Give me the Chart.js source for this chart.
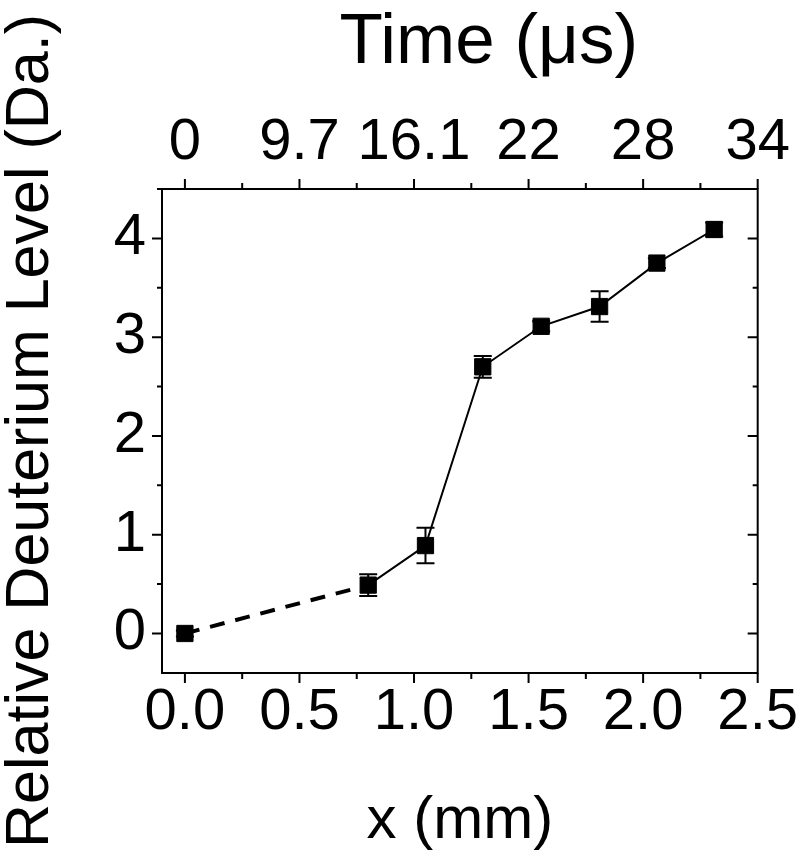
<!DOCTYPE html>
<html lang="en">
<head>
<meta charset="UTF-8">
<title>Relative Deuterium Level vs Position</title>
<script src="https://cdn.jsdelivr.net/npm/chart.js"></script>
<style>
  body { margin: 0; background: #fff; }
</style>
</head>
<body>
<canvas id="deutChart" width="803" height="863"></canvas>
<script>
// position along the channel (mm) and measured deuterium uptake
const xPos = [0, 0.8, 1.05, 1.3, 1.555, 1.81, 2.06, 2.31];
const deutLevel = [0, 0.49, 0.89, 2.70, 3.11, 3.31, 3.75, 4.09];
const deutErr = [0.03, 0.11, 0.18, 0.11, 0.05, 0.155, 0.05, 0.07];

// axis ticks
const xTicks = [0, 0.5, 1.0, 1.5, 2.0, 2.5];
const timeLabels = ['0', '9.7', '16.1', '22', '28', '34'];
const yTicks = [0, 1, 2, 3, 4];

const FONT = '"Liberation Sans", Arial, sans-serif';

// frame, tick marks and the top title
const framePlugin = {
    id: 'frame',
    afterDraw(chart) {
        const { ctx, chartArea: a, scales } = chart;
        ctx.save();
        ctx.strokeStyle = '#000';
        ctx.lineWidth = 2;
        ctx.strokeRect(a.left, a.top, a.right - a.left, a.bottom - a.top);
        ctx.beginPath();
        for (let i = 0; i <= 10; i++) {
            const v = i * 0.25;
            const px = scales.x.getPixelForValue(v);
            const len = i % 2 === 0 ? 10 : 6;
            ctx.moveTo(px, a.bottom); ctx.lineTo(px, a.bottom + len);
            ctx.moveTo(px, a.top); ctx.lineTo(px, a.top - len);
        }
        for (let i = 0; i <= 9; i++) {
            const v = i * 0.5;
            const py = scales.y.getPixelForValue(v);
            const len = i % 2 === 0 ? 10 : 5;
            ctx.moveTo(a.left, py); ctx.lineTo(a.left - len, py);
            ctx.moveTo(a.right, py); ctx.lineTo(a.right - len, py);
        }
        ctx.stroke();

        ctx.fillStyle = '#000';
        ctx.font = '71px ' + FONT;
        ctx.textAlign = 'center';
        ctx.textBaseline = 'alphabetic';
        ctx.fillText('Time (\u03BCs)', (a.left + a.right) / 2 + 29, 63);
        ctx.restore();
    }
};

// vertical error bars with caps
const errorBarPlugin = {
    id: 'errorBars',
    beforeDatasetsDraw(chart) {
        const { ctx, scales } = chart;
        ctx.save();
        ctx.strokeStyle = '#000';
        ctx.lineWidth = 2;
        ctx.beginPath();
        xPos.forEach((x, i) => {
            const px = scales.x.getPixelForValue(x);
            const top = scales.y.getPixelForValue(deutLevel[i] + deutErr[i]);
            const bot = scales.y.getPixelForValue(deutLevel[i] - deutErr[i]);
            ctx.moveTo(px, top); ctx.lineTo(px, bot);
            ctx.moveTo(px - 9, top); ctx.lineTo(px + 9, top);
            ctx.moveTo(px - 9, bot); ctx.lineTo(px + 9, bot);
        });
        ctx.stroke();
        ctx.restore();
    }
};

const points = xPos.map((x, i) => ({ x: x, y: deutLevel[i] }));

const tickFont = { family: FONT, size: 58 };

new Chart(document.getElementById('deutChart').getContext('2d'), {
    type: 'line',
    data: {
        datasets: [{
            data: points,
            borderColor: '#000',
            borderWidth: 2,
            backgroundColor: '#000',
            pointStyle: 'rect',
            pointRadius: 11.5,
            pointBorderWidth: 1,
            pointBackgroundColor: '#000',
            pointBorderColor: '#000',
            tension: 0,
            segment: {
                borderDash: c => c.p0DataIndex === 0 ? [15, 11] : undefined,
                borderWidth: c => c.p0DataIndex === 0 ? 4 : 2
            }
        }]
    },
    options: {
        responsive: false,
        animation: false,
        devicePixelRatio: 1,
        layout: { padding: { left: 0, right: 44, top: 0, bottom: 0 } },
        plugins: {
            legend: { display: false },
            tooltip: { enabled: false }
        },
        scales: {
            x: {
                type: 'linear',
                position: 'bottom',
                min: -0.1,
                max: 2.5,
                grid: { display: false, drawTicks: false },
                border: { display: false },
                afterBuildTicks: s => { s.ticks = xTicks.map(v => ({ value: v })); },
                ticks: {
                    callback: v => v.toFixed(1),
                    font: tickFont,
                    color: '#000',
                    padding: 5,
                    maxRotation: 0,
                    autoSkip: false
                },
                title: {
                    display: true,
                    text: 'x (mm)',
                    color: '#000',
                    font: { family: FONT, size: 60, lineHeight: 1 },
                    padding: { top: 0, bottom: 12 }
                },
                afterFit: s => { s.height = 190; }
            },
            x2: {
                type: 'linear',
                position: 'top',
                min: -0.1,
                max: 2.5,
                grid: { display: false, drawTicks: false },
                border: { display: false },
                afterBuildTicks: s => { s.ticks = xTicks.map(v => ({ value: v })); },
                ticks: {
                    callback: (v, i) => timeLabels[i],
                    font: tickFont,
                    color: '#000',
                    padding: 11,
                    maxRotation: 0,
                    autoSkip: false
                },
                afterFit: s => { s.height = 189; }
            },
            y: {
                type: 'linear',
                min: -0.4,
                max: 4.5,
                grid: { display: false, drawTicks: false },
                border: { display: false },
                afterBuildTicks: s => { s.ticks = yTicks.map(v => ({ value: v })); },
                ticks: {
                    callback: v => String(v),
                    font: tickFont,
                    color: '#000',
                    padding: 16
                },
                title: {
                    display: true,
                    text: 'Relative Deuterium Level (Da.)',
                    color: '#000',
                    font: { family: FONT, size: 61, lineHeight: 1 },
                    padding: { top: 1, bottom: 0 }
                },
                afterFit: s => { s.width = 162; }
            }
        }
    },
    plugins: [errorBarPlugin, framePlugin]
});
</script>
</body>
</html>
